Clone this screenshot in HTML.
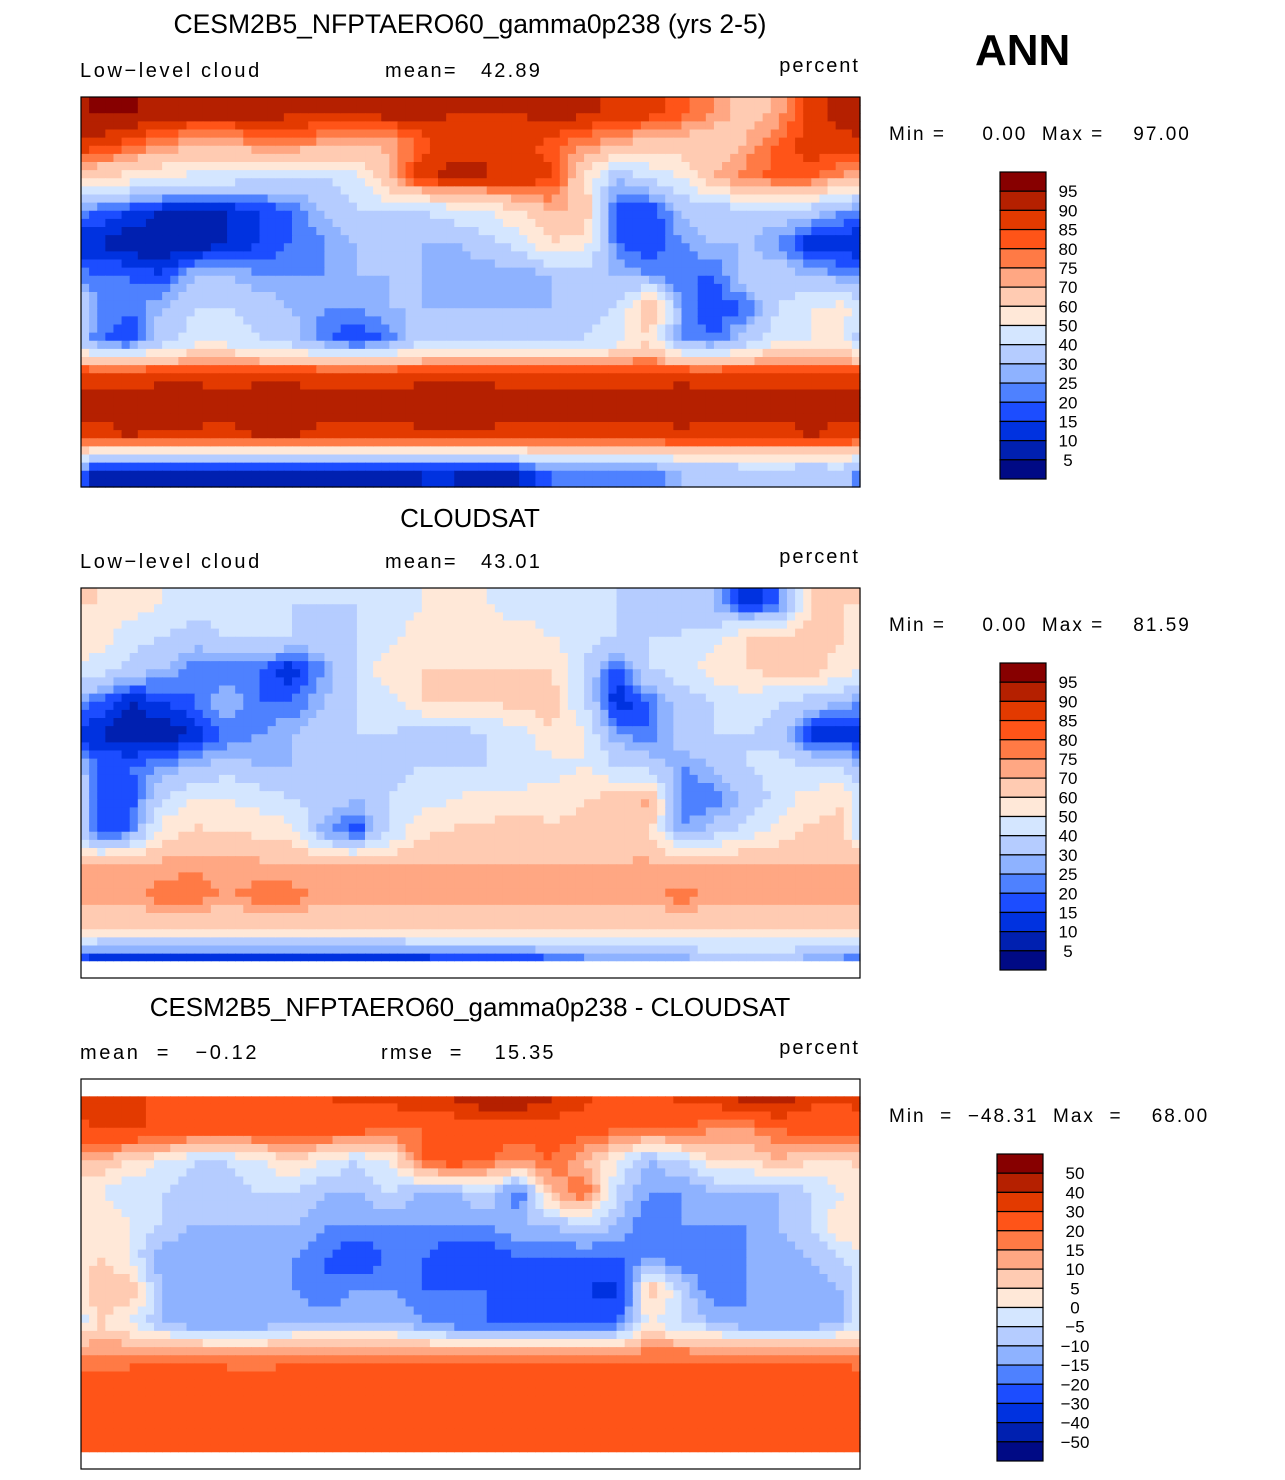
<!DOCTYPE html>
<html><head><meta charset="utf-8">
<style>
body{margin:0;background:#fff;width:1285px;height:1475px;overflow:hidden}
svg text{font-family:"Liberation Sans",sans-serif;fill:#000;white-space:pre}
</style></head>
<body>
<svg id="fig" width="1285" height="1475" xmlns="http://www.w3.org/2000/svg">
<text x="975" y="65" font-size="44" font-weight="bold">ANN</text>
</svg>
<script>
// colour palette (low -> high)
const palette=["#000a85","#0020b0","#0032e0","#1c4dff","#4e81ff","#8eb2ff","#b5ccff","#d4e6ff","#ffe8d8","#ffcbb2","#ffa783","#ff7a45","#ff5418","#e33a00","#b52000","#870000"];
const levelsAbs=[5,10,15,20,25,30,40,50,60,70,75,80,85,90,95];
const levelsDiff=[-50,-40,-30,-20,-15,-10,-5,0,5,10,15,20,30,40,50];
// longitudes 0..360 in 15 deg columns; latitudes 90N..90S in 15 deg rows
const model=[
[96,96,93,93,93,93,92,92,92,93,92,90,90,90,92,92,88,88,82,75,65,72,88,92],
[88,82,75,70,70,75,75,72,72,70,82,88,90,88,82,75,70,65,65,60,72,82,88,88],
[60,55,50,45,45,40,40,40,45,72,90,92,90,90,86,60,30,40,50,72,78,82,82,72],
[20,15,10,10,10,15,20,30,40,40,40,45,50,60,70,70,15,15,30,35,35,35,35,25],
[10,5,5,5,10,15,20,25,30,30,30,30,35,45,60,55,20,15,25,30,30,25,10,10],
[20,20,15,30,30,25,25,25,30,30,30,25,25,25,30,35,30,25,20,20,35,35,30,25],
[25,20,30,40,40,35,30,25,25,30,30,30,30,30,30,35,40,72,25,15,20,40,50,55],
[20,15,35,45,45,40,35,20,15,20,40,40,40,40,40,40,45,60,25,20,35,50,50,50],
[88,88,88,88,88,88,88,88,88,88,88,88,88,88,88,88,88,88,88,88,88,88,88,88],
[92,92,94,94,92,94,94,92,92,92,94,94,94,92,92,92,92,92,94,92,92,92,92,92],
[88,90,88,88,88,90,90,88,88,88,88,88,88,88,88,88,88,88,88,88,88,88,90,88],
[5,5,5,5,5,5,5,5,5,8,10,10,8,10,20,20,20,20,30,30,35,35,30,35]];
const cloudsat=[
[60,55,50,45,45,40,40,40,40,45,50,50,50,45,45,40,40,35,40,30,10,20,60,60],
[55,45,40,35,40,40,40,35,40,45,55,55,55,55,50,45,40,40,40,45,60,60,65,60],
[45,35,30,20,20,20,10,25,40,60,60,60,60,60,60,40,15,40,45,55,60,65,65,55],
[20,10,15,20,30,20,20,30,40,45,60,60,60,65,65,40,10,20,35,40,45,40,35,30],
[10,5,5,10,20,25,30,35,40,40,35,35,40,45,60,50,25,20,35,40,40,35,10,10],
[20,20,25,30,35,30,30,30,35,35,40,40,40,40,45,50,40,35,25,30,40,45,40,40],
[20,15,40,50,50,45,40,35,30,40,45,50,55,55,55,60,65,72,20,20,30,45,55,60],
[15,20,55,62,60,58,55,25,15,40,58,62,62,65,62,62,65,62,25,35,45,55,62,62],
[70,70,72,74,72,72,70,70,70,70,70,70,70,70,70,70,70,72,70,70,70,70,70,70],
[74,74,78,78,74,78,78,74,72,74,74,74,72,74,74,74,74,74,78,74,74,74,74,74],
[60,60,60,60,60,60,60,60,60,60,60,60,60,60,60,60,60,60,60,60,60,60,60,60],
[5,5,5,5,5,5,5,5,5,5,8,10,10,10,15,20,20,20,25,30,30,30,25,20]];
const diff=[
[32,32,28,25,25,28,28,30,32,35,38,42,52,52,42,32,28,28,32,38,45,50,32,32],
[32,30,30,25,25,25,25,25,25,20,20,22,25,25,25,25,22,20,22,15,15,20,25,25],
[10,5,0,-5,-5,0,5,0,-5,0,20,25,20,15,20,10,0,-10,-5,5,5,10,5,5],
[0,-5,-5,-10,-10,-5,-5,-10,-10,-5,-10,-10,-5,-20,10,20,-5,-15,-15,-10,-10,-10,-5,0],
[5,0,-5,-10,-10,-10,-10,-15,-15,-15,-15,-15,-15,-10,-10,-5,-10,-20,-15,-15,-15,-10,-5,5],
[5,0,-15,-15,-15,-15,-15,-20,-25,-20,-20,-25,-25,-20,-20,-20,-20,-15,-20,-20,-15,-15,-10,-5],
[10,10,-10,-15,-15,-10,-15,-20,-15,-15,-20,-20,-20,-25,-25,-30,-35,10,-5,-20,-15,-15,-15,-10],
[5,0,-10,-15,-15,-15,-10,-10,-10,-10,-15,-20,-20,-20,-25,-25,-20,0,-5,-10,-15,-15,-15,-10],
[15,15,18,18,15,15,18,18,18,18,18,18,18,18,18,18,18,18,18,18,18,18,18,18],
[25,28,30,30,28,25,28,28,25,25,28,28,28,25,25,28,28,25,28,28,25,25,28,25],
[25,25,28,28,25,25,28,25,25,25,25,25,28,25,25,25,25,25,25,28,28,25,25,25],
[20,20,20,20,20,20,20,20,20,20,20,20,20,20,20,20,20,20,20,20,20,20,20,20]];
const panels=[
 {name:"model",data:model,levels:levelsAbs,top:97,tOff:64,tSize:26.5,title:"CESM2B5_NFPTAERO60_gamma0p238 (yrs 2-5)",left:"Low\u2212level cloud",mid:"mean=   42.89",minmax:"Min =     0.00  Max =    97.00",latMax:90,latMin:-90},
 {name:"cloudsat",data:cloudsat,levels:levelsAbs,top:588,tOff:61,tSize:26,title:"CLOUDSAT",left:"Low\u2212level cloud",mid:"mean=   43.01",minmax:"Min =     0.00  Max =    81.59",latMax:90,latMin:-82},
 {name:"difference",data:diff,levels:levelsDiff,top:1079,tOff:63,tSize:26,title:"CESM2B5_NFPTAERO60_gamma0p238 - CLOUDSAT",left:"mean  =   \u22120.12",mid:"rmse  =    15.35",minmax:"Min  =  \u221248.31  Max  =    68.00",latMax:82,latMin:-82}
];
const NS="http://www.w3.org/2000/svg";
const svg=document.getElementById('fig');
const MX=81,MW=779,MH=390;
function mk(tag,attrs,parent){const e=document.createElementNS(NS,tag);for(const k in attrs)e.setAttribute(k,attrs[k]);(parent||svg).appendChild(e);return e;}
function colorFor(v,lv){let i=0;while(i<lv.length&&v>=lv[i])i++;return palette[i];}
panels.forEach((p,pi)=>{
 const xs=lon=>MX+lon/360*MW;
 const ys=lat=>p.top+(90-lat)/180*MH;
 const t=mk('text',{x:470,y:p.top-p.tOff,'font-size':p.tSize,'text-anchor':'middle'});
 t.textContent=p.title;
 const s1=mk('text',{x:80,y:p.top-20,'font-size':20,'letter-spacing':'2.6'});
 s1.textContent=p.left;
 const s2=mk('text',{x:pi===2?381:385,y:p.top-20,'font-size':20,'letter-spacing':'2.2'});
 s2.textContent=p.mid;
 const s3=mk('text',{x:860,y:p.top-25,'font-size':20,'text-anchor':'end','letter-spacing':'2'});
 s3.textContent='percent';
 const mm=mk('text',{x:889,y:p.top+43,'font-size':19,'letter-spacing':'2'});
 mm.textContent=p.minmax;
 const g=mk('g',{});
 
 const d=p.data,R=d.length,C=d[0].length,S=4;
 const val=(r,c)=>d[Math.max(0,Math.min(R-1,r))][((c%C)+C)%C];
 for(let r=0;r<R;r++)for(let c=0;c<C;c++)for(let a=0;a<S;a++)for(let b=0;b<S;b++){
  const fr=r+(a+0.5)/S-0.5, fc=c+(b+0.5)/S-0.5;
  const r0=Math.floor(fr),c0=Math.floor(fc),tr=fr-r0,tc=fc-c0;
  const v=(1-tr)*((1-tc)*val(r0,c0)+tc*val(r0,c0+1))+tr*((1-tc)*val(r0+1,c0)+tc*val(r0+1,c0+1));
  const lat0=90-(r+a/S)*180/R, lat1=90-(r+(a+1)/S)*180/R;
  if(lat1>=p.latMax||lat0<=p.latMin)continue;
  const la0=Math.min(lat0,p.latMax),la1=Math.max(lat1,p.latMin);
  const lon0=(c+b/S)*360/C,lon1=(c+(b+1)/S)*360/C;
  const x0=xs(lon0),y0=ys(la0);
  const cell=mk('rect',{x:x0.toFixed(2),y:y0.toFixed(2),width:(xs(lon1)-x0+0.6).toFixed(2),height:(ys(la1)-y0+0.6).toFixed(2),fill:colorFor(v,p.levels)},g);
  
  
 }
 const fr=mk('rect',{x:MX,y:p.top,width:MW,height:MH,fill:'none',stroke:'#000','stroke-width':1.2});
 
 const cb=mk('g',{});
 
 const cbTop=p.top+75,cbH=307,n=palette.length,bh=cbH/n,cbx=pi===2?997:1000;
 for(let i=0;i<n;i++){
  const bx=mk('rect',{x:cbx,y:(cbTop+i*bh).toFixed(2),width:46,height:bh.toFixed(2),fill:palette[n-1-i],stroke:'#000','stroke-width':1.2},cb);
  
  
 }
 p.levels.slice().reverse().forEach((lv,i)=>{
  const lt=mk('text',{x:pi===2?1075:1068,y:(cbTop+(i+1)*bh+6).toFixed(2),'font-size':17,'text-anchor':'middle'},cb);
  
  
  lt.textContent=String(lv).replace('-','\u2212');
 });
});
</script>
</body></html>
